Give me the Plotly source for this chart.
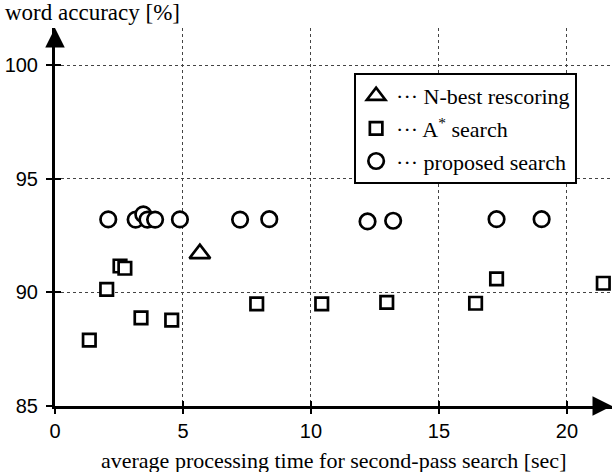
import plotly.graph_objects as go

# Data
nbest_time = [5.66]
nbest_acc = [91.7]

astar_time = [1.34, 2.02, 2.54, 2.73, 3.36, 4.56, 7.88, 10.42, 12.96, 16.43, 17.25, 21.42]
astar_acc = [87.9, 90.13, 91.16, 91.06, 88.88, 88.78, 89.49, 89.49, 89.56, 89.52, 90.59, 90.4]

prop_time = [2.08, 3.15, 3.45, 3.61, 3.91, 4.88, 7.23, 8.37, 12.21, 13.21, 17.25, 19.01]
prop_acc = [93.21, 93.2, 93.43, 93.2, 93.2, 93.21, 93.2, 93.22, 93.12, 93.15, 93.22, 93.22]

x_ticks = [0, 5, 10, 15, 20]
y_ticks = [85, 90, 95, 100]
x_range = [0, 21.76]
y_range = [85, 101.63]

legend_names = ["\u00b7\u00b7\u00b7 N-best rescoring",
                "\u00b7\u00b7\u00b7 A<sup>*</sup> search",
                "\u00b7\u00b7\u00b7 proposed search"]

serif = "Liberation Serif, Times New Roman, serif"
sans = "Liberation Sans, Arial, sans-serif"

fig = go.Figure()
line = dict(color="black", width=2.7)
fig.add_trace(go.Scatter(x=nbest_time, y=nbest_acc, mode="markers", name=legend_names[0],
                         legendgroup="a",
                         marker=dict(symbol="triangle-up", size=18, color="white", line=line)))
fig.add_trace(go.Scatter(x=astar_time, y=astar_acc, mode="markers", name=legend_names[1],
                         legendgroup="b",
                         marker=dict(symbol="square", size=12.5, color="white", line=line)))
fig.add_trace(go.Scatter(x=prop_time, y=prop_acc, mode="markers", name=legend_names[2],
                         legendgroup="c",
                         marker=dict(symbol="circle", size=15.5, color="white", line=line)))

# invisible trace on overlay axes for crossing ticks
fig.add_trace(go.Scatter(x=x_range, y=y_range, xaxis="x2", yaxis="y2", mode="markers",
                         marker=dict(opacity=0), showlegend=False, hoverinfo="skip"))

grid = dict(showgrid=True, gridcolor="#444", gridwidth=1, griddash="dot")
fig.update_layout(
    width=616, height=472,
    margin=dict(l=55, r=4, t=28, b=66),
    paper_bgcolor="white", plot_bgcolor="white",
    xaxis=dict(range=x_range, tickvals=x_ticks, ticks="outside", ticklen=5, tickwidth=2,
               tickcolor="black", showline=True, linecolor="black", linewidth=3,
               zeroline=False, tickfont=dict(family=sans, size=20, color="black"),
               **grid),
    yaxis=dict(range=y_range, tickvals=y_ticks, ticks="outside", ticklen=6, tickwidth=2,
               tickcolor="black", showline=True, linecolor="black", linewidth=3,
               zeroline=False, tickfont=dict(family=sans, size=20, color="black"),
               ticklabelstandoff=4, **grid),
    xaxis2=dict(range=x_range, tickvals=x_ticks, ticks="inside", ticklen=5, tickwidth=2,
                tickcolor="black", showticklabels=False, showgrid=False, zeroline=False,
                overlaying="x", anchor="y"),
    yaxis2=dict(range=y_range, tickvals=y_ticks, ticks="inside", ticklen=6, tickwidth=2,
                tickcolor="black", showticklabels=False, showgrid=False, zeroline=False,
                overlaying="y", anchor="x"),
    showlegend=True,
    legend=dict(x=0.537, y=0.881, xanchor="left", yanchor="top",
                bordercolor="black", borderwidth=2, bgcolor="white",
                font=dict(family=serif, size=22, color="black"),
                traceorder="grouped", tracegroupgap=1, itemsizing="trace"),
    annotations=[
        dict(text="word accuracy [%]", xref="paper", yref="paper", x=-0.093, y=1.04,
             xanchor="left", yanchor="middle", showarrow=False,
             font=dict(family=serif, size=23, color="black")),
        dict(text="average processing time for second-pass search [sec]", xref="paper",
             yref="paper", x=0.5, y=-0.145, xanchor="center", yanchor="middle",
             showarrow=False, font=dict(family=serif, size=22, color="black")),
        dict(text="", xref="x", yref="paper", x=0, y=1, ax=0, ay=16, showarrow=True,
             arrowhead=2, arrowsize=1.3, arrowwidth=3, arrowcolor="black"),
        dict(text="", xref="paper", yref="y", x=1, y=85, ax=-16, ay=0, showarrow=True,
             arrowhead=2, arrowsize=1.3, arrowwidth=3, arrowcolor="black"),
    ],
)

fig.write_html("out.html", config={"displayModeBar": False},
               post_script="document.body.style.margin='0';document.body.style.padding='0';")
